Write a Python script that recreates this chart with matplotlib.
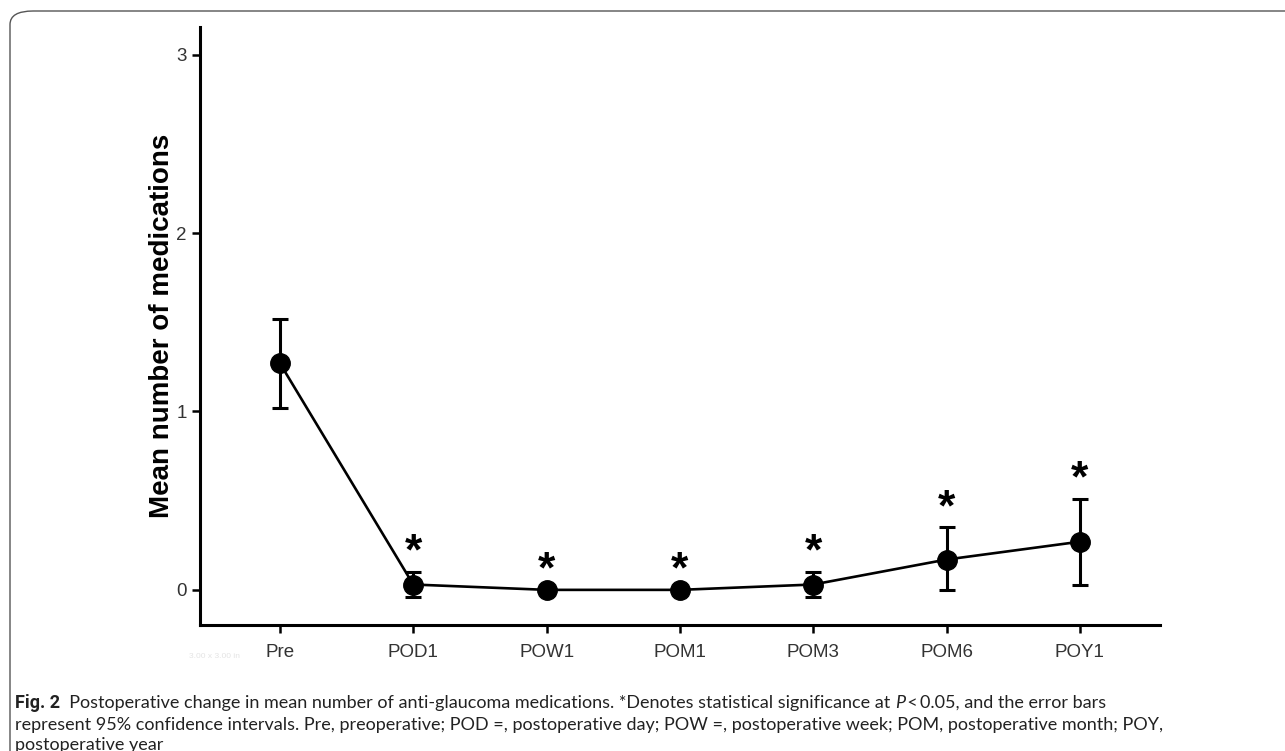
import matplotlib
matplotlib.use("Agg")
import matplotlib.pyplot as plt
from matplotlib.patches import FancyBboxPatch

# data
groups = ["Pre", "POD1", "POW1", "POM1", "POM3", "POM6", "POY1"]
mean_meds = [1.27, 0.03, 0.0, 0.0, 0.03, 0.17, 0.27]
ci_low = [1.02, -0.04, 0.0, 0.0, -0.04, 0.0, 0.03]
ci_high = [1.52, 0.10, 0.0, 0.0, 0.10, 0.35, 0.51]
significant = [False, True, True, True, True, True, True]

caption_lines = [
    [("Fig. 2", "bold", "normal"),
     ("  Postoperative change in mean number of anti-glaucoma medications. *Denotes statistical significance at ", "normal", "normal"),
     ("P", "normal", "italic"),
     ("\u2009<\u20090.05, and the error bars", "normal", "normal")],
    [("represent 95% confidence intervals. Pre, preoperative; POD =, postoperative day; POW =, postoperative week; POM, postoperative month; POY,", "normal", "normal")],
    [("postoperative year", "normal", "normal")],
]

plt.rcParams["font.family"] = ["Liberation Sans", "DejaVu Sans"]

fig = plt.figure(figsize=(12.85, 7.51), dpi=100)
ax = fig.add_axes([0.1556, 0.168, 0.747, 0.796])

x = list(range(len(groups)))
yerr = [[m - lo for m, lo in zip(mean_meds, ci_low)],
        [hi - m for m, hi in zip(mean_meds, ci_high)]]

ax.plot(x, mean_meds, color="black", lw=1.9, zorder=2)
ax.errorbar(x, mean_meds, yerr=yerr, fmt="none", ecolor="black",
            elinewidth=2.2, capsize=6, capthick=2.2, zorder=3)
ax.plot(x, mean_meds, "o", color="black", markersize=14, zorder=4)

for xi, hi, sig in zip(x, ci_high, significant):
    if sig:
        ax.text(xi, hi - 0.01, "*", ha="center", va="bottom",
                fontsize=32, fontweight="bold")

ax.set_xlim(-0.6, 6.6)
ax.set_ylim(-0.196, 3.155)
ax.set_xticks(x)
ax.set_xticklabels(groups)
ax.set_yticks([0, 1, 2, 3])
ax.tick_params(axis="both", labelsize=13.5, width=1.8, length=6,
               color="black", labelcolor="#333333")
ax.tick_params(axis="x", pad=8)
ax.set_ylabel("Mean number of medications", fontsize=20, fontweight="bold",
              labelpad=1)
for side in ["top", "right"]:
    ax.spines[side].set_visible(False)
for side in ["left", "bottom"]:
    ax.spines[side].set_linewidth(2.2)

# faint size stamp under the axis
fig.text(215 / 1285, 1 - 657 / 751, "3.00 x 3.00 in", fontsize=6,
         color="#e4e4e4", va="center", ha="center")

# rounded frame around figure + caption
frame = FancyBboxPatch((10 / 1285, -0.05), 1.2, 1.05 - 11 / 751,
                       boxstyle="round,pad=0,rounding_size=0.018",
                       transform=fig.transFigure, fill=False,
                       edgecolor="#555555", lw=1.0, zorder=0)
fig.patches.append(frame)

# caption, pieces chained left to right
renderer = fig.canvas.get_renderer()
line_y = [703, 725, 745]
for pieces, yp in zip(caption_lines, line_y):
    xp = 15
    for txt, weight, style in pieces:
        fam = ["Roboto", "DejaVu Sans"] if weight == "bold" else ["Lato", "DejaVu Sans"]
        t = fig.text(xp / 1285, 1 - yp / 751, txt, fontsize=13,
                     family=fam, fontweight=weight,
                     fontstyle=style, va="center", ha="left", color="#222222")
        bb = t.get_window_extent(renderer)
        xp += bb.width

fig.savefig("out.png", dpi=100)
